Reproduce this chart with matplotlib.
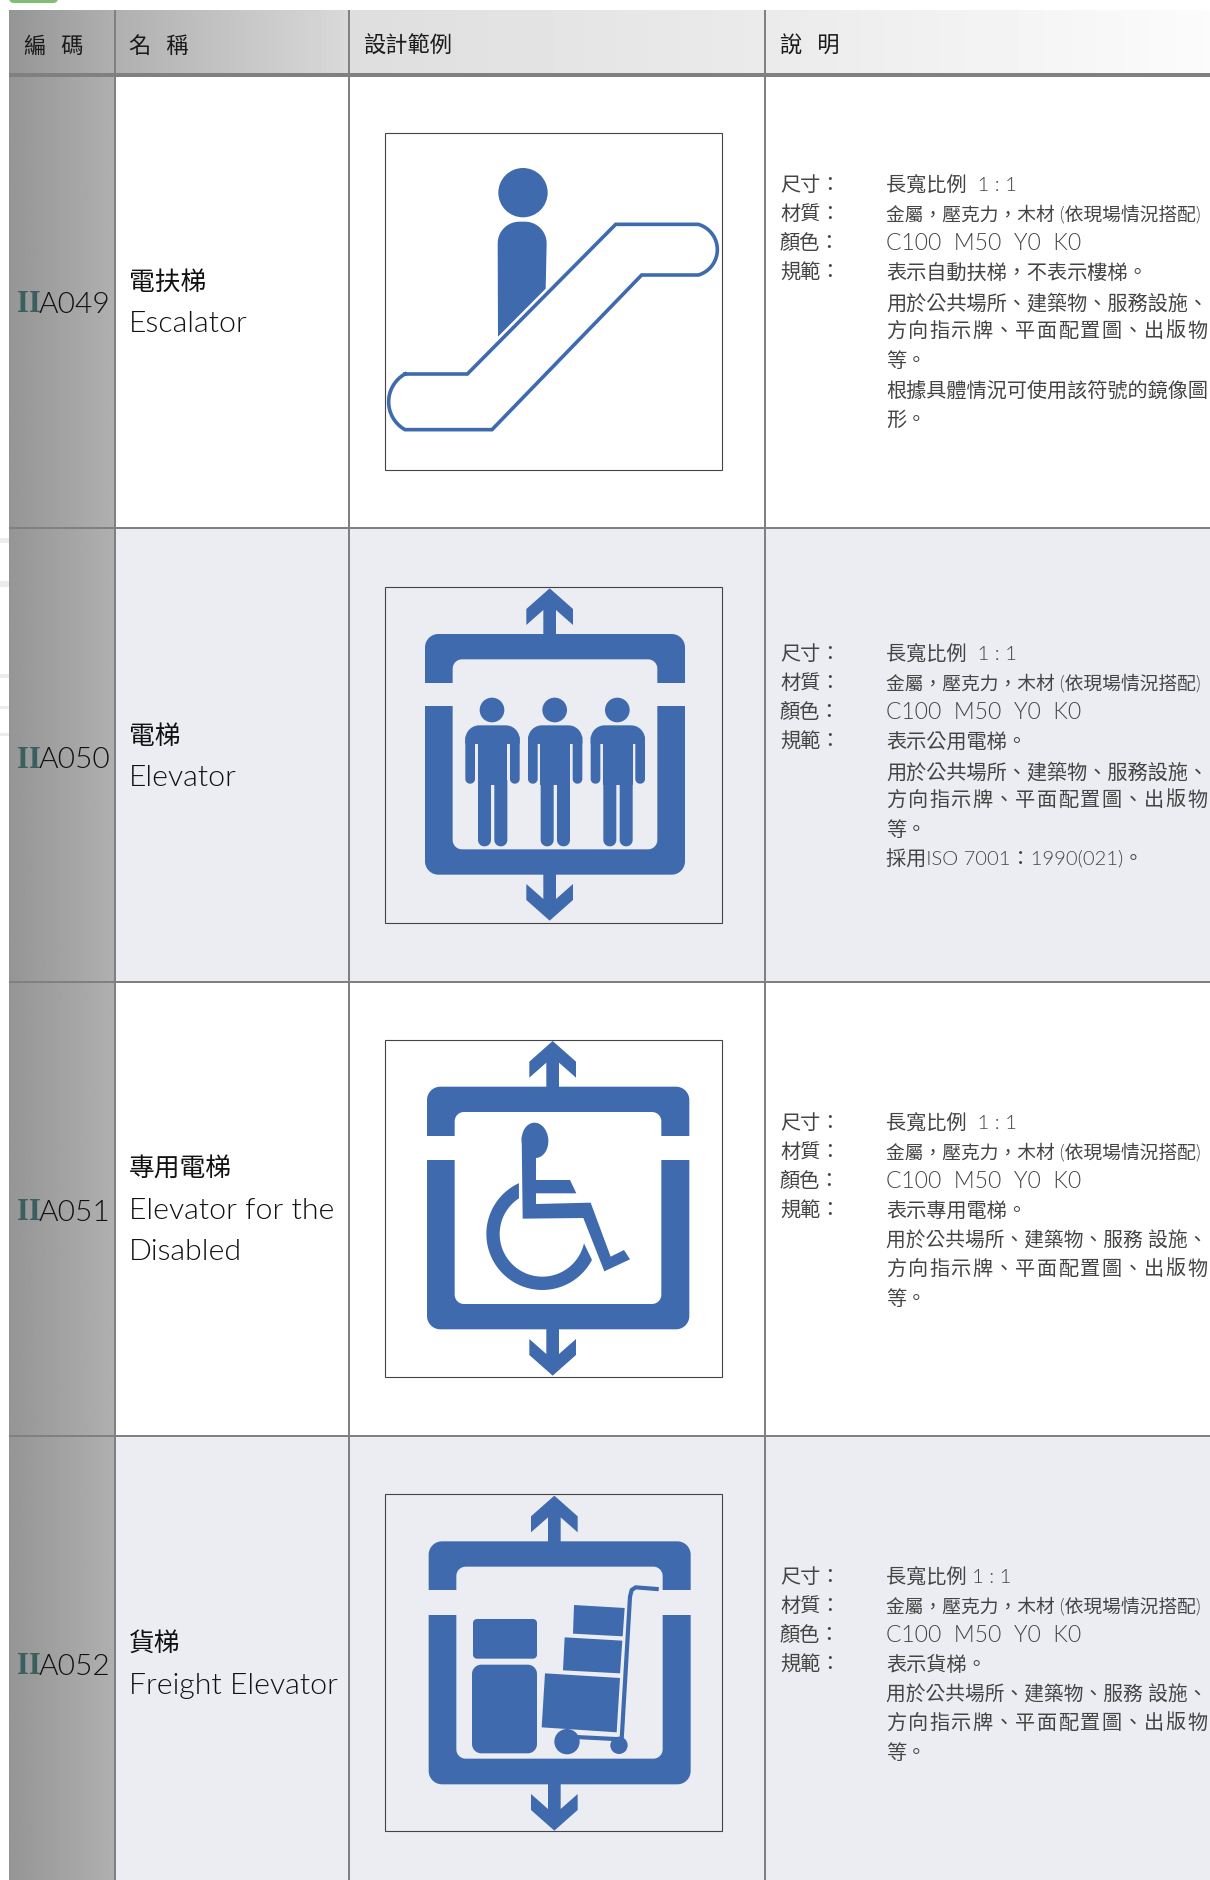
import numpy as np
import matplotlib
matplotlib.use('Agg')
import matplotlib.pyplot as plt
from matplotlib.patches import Polygon, Circle, Ellipse, Rectangle, FancyBboxPatch

W, H = 1210, 1880
BLUE = '#3f6aad'
PALE = '#ebedf2'
LINE = '#808080'
CJK = ['Noto Sans CJK TC', 'DejaVu Sans']
MIX = ['Lato', 'Noto Sans CJK TC', 'DejaVu Sans']
THIN = 300
COMMA = '\uff0c'
COLON = '\uff1a'

headers = ['編   碼', '名   稱', '設計範例', '說   明']
codes = ['A049', 'A050', 'A051', 'A052']
names_zh = ['電扶梯', '電梯', '專用電梯', '貨梯']
names_en = [['Escalator'], ['Elevator'], ['Elevator for the', 'Disabled'], ['Freight Elevator']]
labels = ['尺寸' + COLON, '材質' + COLON, '顏色' + COLON, '規範' + COLON]
material = '金屬' + COMMA + '壓克力' + COMMA + '木材 (依現場情況搭配)'
colour = 'C100  M50  Y0  K0'
spread = '方向指示牌、平面配置圖、出版物'
gapped = '用於公共場所、建築物、服務 設施、'
desc = [
    ['長寬比例  1 : 1', material, colour, '表示自動扶梯' + COMMA + '不表示樓梯。',
     '用於公共場所、建築物、服務設施、', spread, '等。', '根據具體情況可使用該符號的鏡像圖', '形。'],
    ['長寬比例  1 : 1', material, colour, '表示公用電梯。',
     '用於公共場所、建築物、服務設施、', spread, '等。', '採用ISO 7001' + COLON + '1990(021)。'],
    ['長寬比例  1 : 1', material, colour, '表示專用電梯。', gapped, spread, '等。'],
    ['長寬比例 1 : 1', material, colour, '表示貨梯。', gapped, spread, '等。'],
]
col_x = [115, 349, 765]
row_y = [75, 528, 982, 1436, 1880]
row_bg = ['#ffffff', PALE, '#ffffff', PALE]
code_y = [305, 760, 1213, 1667]
zh_y = [283, 737, 1169, 1644]
en_y = [[324], [778], [1211, 1252], [1686]]
desc_y = [185, 654, 1123, 1577]
box_xy = [(385.3, 133.2), (385.3, 586.6), (385.3, 1040.4), (385.3, 1494)]

fig = plt.figure(figsize=(W / 100, H / 100), dpi=100)
ax = fig.add_axes([0, 0, 1, 1])
ax.set_xlim(0, W)
ax.set_ylim(H, 0)
ax.axis('off')


def grad(x0, x1, y0, y1, c0, c1, z=1):
    g = np.linspace(c0, c1, 64).reshape(1, -1)
    ax.imshow(g, extent=[x0, x1, y1, y0], cmap='gray', vmin=0, vmax=1, aspect='auto', zorder=z,
              interpolation='bilinear')


def rr_pts(x0, y0, x1, y1, r):
    if np.isscalar(r):
        r = (r, r, r, r)
    tl, tr, br, bl = r
    out = []
    for cx, cy, rad, a0 in [(x0 + tl, y0 + tl, tl, 180), (x1 - tr, y0 + tr, tr, 270),
                            (x1 - br, y1 - br, br, 0), (x0 + bl, y1 - bl, bl, 90)]:
        t = np.radians(np.linspace(a0, a0 + 90, 12))
        out.append(np.c_[cx + rad * np.cos(t), cy + rad * np.sin(t)])
    return np.vstack(out)


class Z:
    """Convert crop coordinates (3x zoom) into figure pixels."""
    def __init__(self, ox, oy):
        self.ox, self.oy = ox, oy

    def p(self, pts):
        a = np.asarray(pts, float)
        return np.c_[self.ox + a[:, 0] / 3, self.oy + a[:, 1] / 3]

    def poly(self, pts, c=BLUE, z=5):
        ax.add_patch(Polygon(self.p(pts), closed=True, fc=c, ec='none', zorder=z))

    def rr(self, x0, y0, x1, y1, r, c=BLUE, z=5):
        self.poly(rr_pts(x0, y0, x1, y1, r), c, z)

    def circle(self, x, y, r, c=BLUE, z=5):
        ax.add_patch(Circle((self.ox + x / 3, self.oy + y / 3), r / 3, fc=c, ec='none', zorder=z))


def frame(zc, cx, o, i, gap, tip_t, tip_b, bg):
    zc.rr(o[0], o[2], o[1], o[3], 40, z=4)
    zc.rr(i[0], i[2], i[1], i[3], 28, c=bg, z=4.2)
    zc.poly([(o[0] - 2, gap[0]), (o[1] + 2, gap[0]), (o[1] + 2, gap[1]), (o[0] - 2, gap[1])], c=bg, z=4.1)
    s, w = 19, 70
    zc.poly([(cx, tip_t), (cx + w, tip_t + 62), (cx + w, tip_t + 110), (cx + s, tip_t + 65), (cx + s, o[2] + 2),
             (cx - s, o[2] + 2), (cx - s, tip_t + 65), (cx - w, tip_t + 110), (cx - w, tip_t + 62)], z=4)
    zc.poly([(cx, tip_b), (cx + w, tip_b - 62), (cx + w, tip_b - 110), (cx + s, tip_b - 65), (cx + s, o[3] - 2),
             (cx - s, o[3] - 2), (cx - s, tip_b - 65), (cx - w, tip_b - 110), (cx - w, tip_b - 62)], z=4)


def arc3(p0, pm, p1, n=40):
    a = 2 * np.array([[p1[0] - p0[0], p1[1] - p0[1]], [pm[0] - p0[0], pm[1] - p0[1]]], float)
    b = np.array([p1[0] ** 2 + p1[1] ** 2 - p0[0] ** 2 - p0[1] ** 2,
                  pm[0] ** 2 + pm[1] ** 2 - p0[0] ** 2 - p0[1] ** 2], float)
    c = np.linalg.solve(a, b)
    r = np.hypot(*(np.array(p0) - c))
    t0 = np.arctan2(p0[1] - c[1], p0[0] - c[0])
    tm = np.arctan2(pm[1] - c[1], pm[0] - c[0])
    tm = t0 + (tm - t0 + np.pi) % (2 * np.pi) - np.pi
    t1 = t0 + 2 * (tm - t0)
    t = np.linspace(t0, t1, n)
    return np.c_[c[0] + r * np.cos(t), c[1] + r * np.sin(t)]


# ---------- page furniture ----------
ax.add_patch(FancyBboxPatch((9, -12), 49, 15, boxstyle='round,pad=0,rounding_size=5', fc='#7fbf72', ec='none', zorder=1))
for y0, y1 in [(538, 543), (581, 587), (674, 678), (706, 709), (733, 736)]:
    ax.add_patch(Rectangle((0, y0), 9, y1 - y0, fc='#ececec', ec='none', zorder=1))

# ---------- table background ----------
for k in range(4):
    ax.add_patch(Rectangle((115, row_y[k]), W - 115, row_y[k + 1] - row_y[k], fc=row_bg[k], ec='none', zorder=1))
grad(9, 115, 10, H, 0.585, 0.69)
grad(115, 349, 10, 75, 0.69, 0.85)
grad(349, 765, 10, 75, 0.87, 0.92)
grad(765, W, 10, 75, 0.92, 0.985)
ax.set_xlim(0, W)
ax.set_ylim(H, 0)

# ---------- grid ----------
for x in col_x:
    ax.add_patch(Rectangle((x - 1, 10), 2.2, H - 10, fc=LINE, ec='none', zorder=3))
ax.add_patch(Rectangle((9, 73), W - 9, 4, fc=LINE, ec='none', zorder=3))
for y in row_y[1:4]:
    ax.add_patch(Rectangle((9, y - 0.8), W - 9, 1.8, fc=LINE, ec='none', zorder=3))

# ---------- sign boxes ----------
for bx, by in box_xy:
    ax.add_patch(Rectangle((bx, by), 337, 336.5, fc='none', ec='#444444', lw=0.8, zorder=6))

# row 1: escalator
z1 = Z(370, 120)
z1.circle(459, 218, 74)
top = rr_pts(383, 305, 530, 500, (65, 65, 0, 0))
z1.poly([(383, 370)] + [tuple(q) for q in top[:24]] + [(527, 506), (384, 650)])
esc = np.vstack([[(105, 762), (292, 762), (737, 313), (985, 313)],
                 arc3((985, 313), (1042, 389), (985, 465)),
                 [(815, 465), (366, 929), (105, 929)],
                 arc3((105, 929), (56, 845), (105, 762))])
esc_px = z1.p(esc)
ax.plot(esc_px[:, 0], esc_px[:, 1], color=BLUE, lw=2.6, solid_joinstyle='miter', zorder=5)


def person(zc, cx):
    zc.circle(cx, 420, 37)
    zc.rr(cx - 80, 466, cx + 83, 522, (42, 42, 0, 0))
    zc.rr(cx - 80, 500, cx - 51, 641, (0, 0, 14, 14))
    zc.rr(cx + 54, 500, cx + 83, 641, (0, 0, 14, 14))
    zc.poly([(cx - 43, 510), (cx + 46, 510), (cx + 46, 645), (cx - 43, 645)])
    zc.rr(cx - 42, 630, cx - 3, 829, (0, 0, 19, 19))
    zc.rr(cx + 7, 630, cx + 46, 829, (0, 0, 19, 19))


# row 2: elevator
z2 = Z(370, 570)
frame(z2, 539, (165, 945, 192, 914), (248, 862, 268, 838), (339, 409), 55, 1052, PALE)
for cx in (366, 554, 742):
    person(z2, cx)

# row 3: accessible elevator
z3 = Z(370, 1030)
frame(z3, 548, (171, 958, 170, 898), (254, 874, 246, 822), (318, 390), 33, 1037, '#ffffff')
ax.add_patch(Ellipse((370 + 495 / 3, 1030 + 331 / 3), 80 / 3, 106 / 3, angle=-4, fc=BLUE, ec='none', zorder=5))
z3.poly([(455, 320), (498, 370), (498, 450), (600, 450), (619, 490), (498, 490), (498, 522), (662, 518),
         (722, 680), (762, 660), (780, 688), (703, 724), (640, 564), (458, 566)])
ta = np.radians(np.linspace(245.3, 27.6, 60))
tb = np.radians(np.linspace(12.6, 236.8, 60))
ring = np.vstack([np.c_[517 + 168 * np.cos(ta), 612 + 168 * np.sin(ta)],
                  np.c_[517 + 128 * np.cos(tb), 612 + 128 * np.sin(tb)]])
z3.poly(ring)

# row 4: freight elevator
z4 = Z(370, 1480)
frame(z4, 553, (176, 962, 184, 913), (259, 878, 260, 836), (330, 405), 47, 1052, PALE)
z4.rr(309, 417, 501, 536, 12)
z4.rr(306, 554, 501, 820, 28)
z4.poly([(612, 375), (764, 384), (758, 469), (609, 461)])
z4.poly([(584, 472), (757, 482), (750, 580), (579, 571)])
z4.poly([(525, 580), (750, 594), (740, 757), (515, 742)])
z4.circle(591, 785, 38)
z4.circle(747, 796, 26)
hand = z4.p([(597, 770), (755, 778), (780, 350), (785, 330), (797, 322), (860, 327)])
ax.plot(hand[:, 0], hand[:, 1], color=BLUE, lw=3.0, solid_joinstyle='round', zorder=5)

# ---------- text ----------
hx = [24, 129, 364, 780]
for x, t in zip(hx, headers):
    ax.text(x, 46, t, family=CJK, fontsize=16, va='center', ha='left', color='#1a1a1a', zorder=8)

sizes = {colour: 16.5, material: 13.5, gapped: 14.2}
for k in range(4):
    ax.text(17, code_y[k], 'II', family=['Liberation Serif'], weight='bold', fontsize=22, va='center', ha='left',
            color='#3b5f5e', zorder=8)
    ax.text(39, code_y[k], codes[k], family=['Lato'], weight=THIN, fontsize=21.5, va='center', ha='left',
            color='#111111', zorder=8)
    ax.text(129, zh_y[k], names_zh[k], family=CJK, weight='medium', fontsize=18.5, va='center', ha='left',
            color='#111111', zorder=8)
    for t, y in zip(names_en[k], en_y[k]):
        ax.text(129, y, t, family=['Lato'], weight=THIN, fontsize=21.8, va='center', ha='left',
                color='#111111', zorder=8)
    for i, t in enumerate(labels):
        ax.text(780, desc_y[k] + i * 29.3, t, family=CJK, fontsize=14.5, va='center', ha='left',
                color='#444444', zorder=8)
    for i, t in enumerate(desc[k]):
        y = desc_y[k] + i * 29.3
        if t == spread:
            for j, ch in enumerate(t):
                ax.text(886 + j * 21.5, y, ch, family=CJK, fontsize=14.5, va='center', ha='left',
                        color='#444444', zorder=8)
        else:
            ax.text(886, y, t, family=MIX, weight=THIN, fontsize=sizes.get(t, 14.5), va='center', ha='left',
                    color='#444444', zorder=8)

fig.savefig('out.png', dpi=100, facecolor='white')
